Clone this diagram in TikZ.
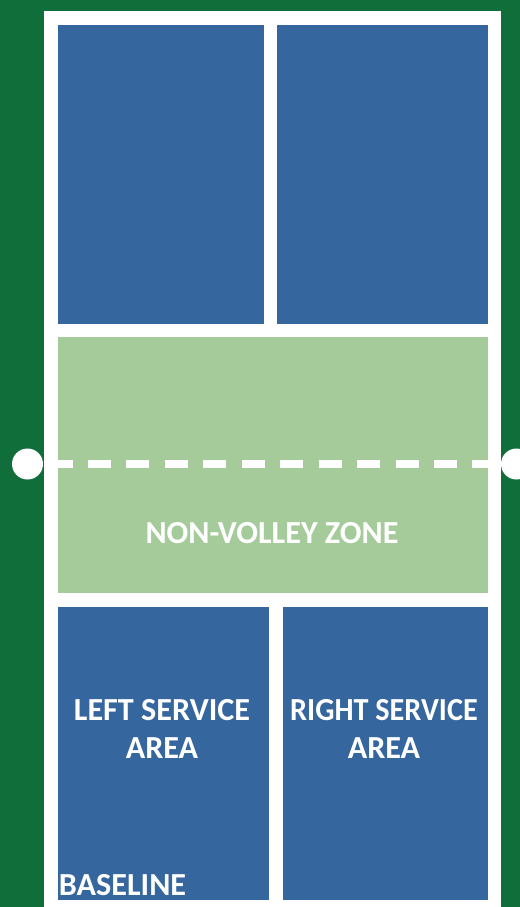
\documentclass[tikz,border=0pt]{standalone}
\usepackage{xcolor}
\usepackage{fontspec}
\setmainfont{Carlito}
\usetikzlibrary{positioning}
\definecolor{courtgreen}{RGB}{16,110,58}
\definecolor{servicebl}{RGB}{54,102,158}
\definecolor{zonegreen}{RGB}{166,203,155}
\tikzset{
  lbl/.style={text=white,font=\bfseries\fontsize{18.3pt}{21.6pt}\selectfont,align=center,inner sep=0pt},
  post/.style={circle,fill=white,minimum size=0.62cm,inner sep=0pt},
}
\begin{document}
\begin{tikzpicture}[x=0.02cm,y=-0.02cm]
\useasboundingbox (0,0) rectangle (520,907);
\fill[courtgreen] (0,0) rectangle (520,907);
\fill[white] (44.2,11.2) rectangle (501,907);

\fill[servicebl] (57.5,24.5) rectangle (264,323.5);
\fill[servicebl] (277,24.5) rectangle (488,323.5);

\fill[zonegreen] (58,337) rectangle (488,593);
\coordinate (netl) at (49.56,464);
\coordinate (netr) at (501,464);
\draw[white,line width=0.16cm,dash pattern=on 0.46cm off 0.309cm] (netl) -- (netr);
\node at (272,533) [lbl] (zone) {NON-VOLLEY ZONE};

\fill[servicebl] (58,607) rectangle (269,900);
\node at (162,729) [lbl] (left) {LEFT SERVICE\\AREA};
\fill[servicebl] (282.5,607) rectangle (488,900);
\node at (384,729) [lbl] (right) {\scalebox{0.94}[1]{RIGHT SERVICE}\\AREA};
\node at (122.5,885) [lbl] (base) {BASELINE};

\node at (27.5,464) [post] (postl) {};
\begin{scope}
\clip (0,0) rectangle (520,907);
\node at (516.5,464) [post] (postr) {};
\end{scope}
\end{tikzpicture}
\end{document}
